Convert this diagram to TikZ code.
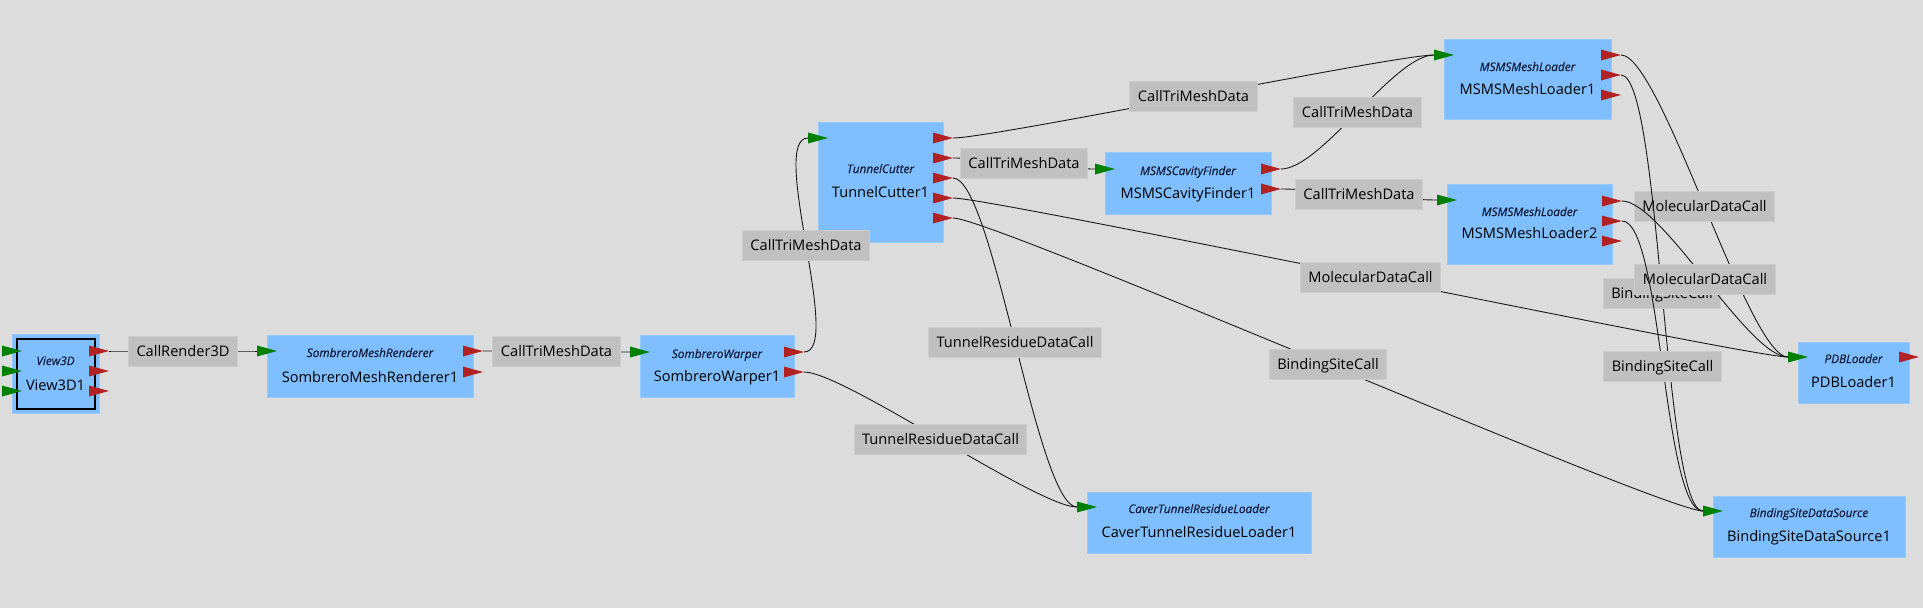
\documentclass[tikz,border=0pt]{standalone}
\usepackage{fontspec}
\setmainfont{Open Sans}
\definecolor{bg}{RGB}{220,220,220}
\definecolor{modfill}{RGB}{128,191,255}
\definecolor{modline}{RGB}{150,202,252}
\definecolor{callfill}{RGB}{192,192,192}
\definecolor{callline}{RGB}{204,204,204}
\definecolor{slotgreen}{RGB}{0,128,0}
\definecolor{slotred}{RGB}{178,34,34}
\definecolor{edgecol}{RGB}{25,25,25}
\definecolor{classcol}{RGB}{20,30,60}
\tikzset{
  module/.style={draw=modline, fill=modfill, line width=1pt, inner sep=0pt, rectangle},
  classname/.style={font=\fontsize{11.8}{13}\selectfont\itshape\addfontfeatures{FakeBold=0.6}, text=classcol, anchor=base, inner sep=0pt},
  modname/.style={font=\fontsize{14.6}{17}\selectfont, text=black, anchor=base, inner sep=0pt},
  callbox/.style={draw=callline, fill=callfill, line width=1pt, font=\fontsize{14.6}{17}\selectfont,
    text height=10.4pt, text depth=0pt, inner xsep=8pt, inner ysep=0pt, minimum height=30pt},
  conn/.style={draw=edgecol, line width=0.9pt},
}
\newcommand\redslot[3]{\fill[slotred] (#2-10,#3-5.5) -- (#2+10,#3) -- (#2-10,#3+5.5) -- cycle; \coordinate (#1) at (#2+10,#3);}
\newcommand\greenslot[3]{\fill[slotgreen] (#2-10,#3-5.5) -- (#2+10,#3) -- (#2-10,#3+5.5) -- cycle; \coordinate (#1) at (#2-10,#3);}
\newcommand\callconn[4]{\draw[conn] (#1) .. controls +(40,0) and +(-40,0) .. (#2) node[callbox, pos=0.5] (#3) {#4};}
\begin{document}
\begin{tikzpicture}[x=1pt, y=-1pt]
\useasboundingbox (0,0) rectangle (1923,608);
\fill[bg] (0,0) rectangle (1923,608);

% View3D1
\node[module, minimum width=87pt, minimum height=79pt] (v) at (55.5,373.5) {};
\draw[black, line width=1.2pt] (17,339) rectangle (95,409);
\node[classname] (v-c) at (55.5,365) {View3D};
\node[modname] (v-n) at (55.5,390) {View3D1};
\greenslot{v-i1}{12}{351}\greenslot{v-i2}{12}{371}\greenslot{v-i3}{12}{391}
\redslot{v-o1}{99}{351}\redslot{v-o2}{99}{371}\redslot{v-o3}{99}{391}

% SombreroMeshRenderer1
\node[module, minimum width=206pt, minimum height=62pt] (smr) at (370,366) {};
\node[classname] (smr-c) at (370,357) {SombreroMeshRenderer};
\node[modname] (smr-n) at (370,382) {SombreroMeshRenderer1};
\greenslot{smr-i1}{267}{351}
\redslot{smr-o1}{473}{351}\redslot{smr-o2}{473}{372}

% SombreroWarper1
\node[module, minimum width=154pt, minimum height=62pt] (sw) at (717,366.5) {};
\node[classname] (sw-c) at (717,358) {SombreroWarper};
\node[modname] (sw-n) at (717,381.5) {SombreroWarper1};
\greenslot{sw-i1}{640}{352}
\redslot{sw-o1}{794}{352}\redslot{sw-o2}{794}{372}

% TunnelCutter1
\node[module, minimum width=125pt, minimum height=120pt] (tc) at (880.5,182) {};
\node[classname] (tc-c) at (880.5,173) {TunnelCutter};
\node[modname] (tc-n) at (880.5,197) {TunnelCutter1};
\greenslot{tc-i1}{818}{138}
\redslot{tc-o1}{943}{138}\redslot{tc-o2}{943}{158}\redslot{tc-o3}{943}{178}
\redslot{tc-o4}{943}{198}\redslot{tc-o5}{943}{218}

% MSMSCavityFinder1
\node[module, minimum width=166pt, minimum height=62pt] (cf) at (1188,183) {};
\node[classname] (cf-c) at (1188,175) {MSMSCavityFinder};
\node[modname] (cf-n) at (1188,198) {MSMSCavityFinder1};
\greenslot{cf-i1}{1105}{169}
\redslot{cf-o1}{1271}{169}\redslot{cf-o2}{1271}{189}

% MSMSMeshLoader1
\node[module, minimum width=167pt, minimum height=80pt] (l1) at (1527.5,79) {};
\node[classname] (l1-c) at (1527.5,71) {MSMSMeshLoader};
\node[modname] (l1-n) at (1527.5,94) {MSMSMeshLoader1};
\greenslot{l1-i1}{1444}{55}
\redslot{l1-o1}{1611}{55}\redslot{l1-o2}{1611}{75}\redslot{l1-o3}{1611}{95}

% MSMSMeshLoader2
\node[module, minimum width=165pt, minimum height=80pt] (l2) at (1529.5,224) {};
\node[classname] (l2-c) at (1529.5,216) {MSMSMeshLoader};
\node[modname] (l2-n) at (1529.5,238) {MSMSMeshLoader2};
\greenslot{l2-i1}{1447}{200}
\redslot{l2-o1}{1612}{201}\redslot{l2-o2}{1612}{221}\redslot{l2-o3}{1612}{241}

% PDBLoader1
\node[module, minimum width=111pt, minimum height=61pt] (pdb) at (1853.5,372.5) {};
\node[classname] (pdb-c) at (1853.5,363) {PDBLoader};
\node[modname] (pdb-n) at (1853.5,387) {PDBLoader1};
\greenslot{pdb-i1}{1798}{357}
\redslot{pdb-o1}{1909}{357}

% BindingSiteDataSource1
\node[module, minimum width=192pt, minimum height=61pt] (bs) at (1809,526.5) {};
\node[classname] (bs-c) at (1809,517) {BindingSiteDataSource};
\node[modname] (bs-n) at (1809,541) {BindingSiteDataSource1};
\greenslot{bs-i1}{1713}{511}

% CaverTunnelResidueLoader1
\node[module, minimum width=224pt, minimum height=61pt] (cav) at (1199,522.5) {};
\node[classname] (cav-c) at (1199,513) {CaverTunnelResidueLoader};
\node[modname] (cav-n) at (1199,537) {CaverTunnelResidueLoader1};
\greenslot{cav-i1}{1087}{507}

% calls
\callconn{v-o1}{smr-i1}{c1}{CallRender3D}
\callconn{smr-o1}{sw-i1}{c2}{CallTriMeshData}
\callconn{sw-o1}{tc-i1}{c3}{CallTriMeshData}
\callconn{sw-o2}{cav-i1}{c4}{TunnelResidueDataCall}
\callconn{tc-o1}{l1-i1}{c5}{CallTriMeshData}
\callconn{tc-o2}{cf-i1}{c6}{CallTriMeshData}
\callconn{tc-o3}{cav-i1}{c7}{TunnelResidueDataCall}
\callconn{tc-o4}{pdb-i1}{c8}{MolecularDataCall}
\callconn{tc-o5}{bs-i1}{c9}{BindingSiteCall}
\callconn{cf-o1}{l1-i1}{c10}{CallTriMeshData}
\callconn{cf-o2}{l2-i1}{c11}{CallTriMeshData}
\callconn{l1-o1}{pdb-i1}{c12}{MolecularDataCall}
\callconn{l1-o2}{bs-i1}{c13}{BindingSiteCall}
\callconn{l2-o1}{pdb-i1}{c14}{MolecularDataCall}
\callconn{l2-o2}{bs-i1}{c15}{BindingSiteCall}
\end{tikzpicture}
\end{document}
